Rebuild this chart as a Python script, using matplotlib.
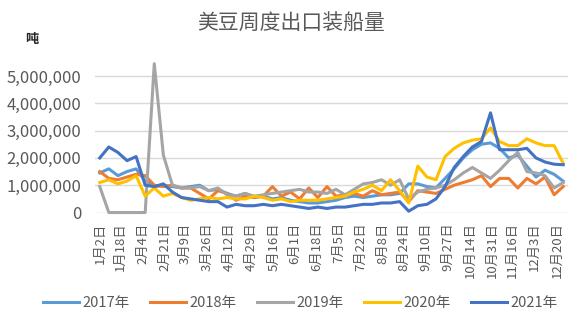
import matplotlib
matplotlib.use("Agg")
import matplotlib.pyplot as plt
import numpy as np
from matplotlib.ticker import FuncFormatter

plt.rcParams['font.family'] = ['Noto Sans CJK SC', 'DejaVu Sans']

# 周度数据(百万吨),每年52周,第一周为1月2日
years = ['2017年', '2018年', '2019年', '2020年', '2021年']
colors = ['#5B9BD5', '#ED7D31', '#A5A5A5', '#FFC000', '#4472C4']

y2017 = [1.45, 1.6, 1.35, 1.5, 1.6, 1.15, 0.95, 1.0, 0.95, 0.9, 0.95, 1.0, 0.8,
         0.85, 0.7, 0.6, 0.7, 0.55, 0.6, 0.5, 0.55, 0.45, 0.4, 0.35, 0.35, 0.4,
         0.45, 0.55, 0.6, 0.55, 0.6, 0.65, 0.65, 0.7, 1.05, 1.05, 0.95, 0.9,
         1.25, 1.6, 2.0, 2.3, 2.5, 2.55, 2.35, 2.0, 2.1, 1.7, 1.3, 1.55, 1.4, 1.15]
y2018 = [1.5, 1.25, 1.2, 1.3, 1.4, 1.35, 1.0, 0.95, 1.0, 0.9, 0.9, 0.7, 0.5,
         0.8, 0.7, 0.45, 0.6, 0.55, 0.6, 0.95, 0.6, 0.75, 0.5, 0.9, 0.55, 0.95,
         0.6, 0.65, 0.7, 0.6, 0.8, 0.65, 0.7, 0.75, 0.4, 0.8, 0.75, 0.7,
         0.85, 1.0, 1.1, 1.2, 1.35, 0.95, 1.25, 1.25, 0.9, 1.25, 1.05, 1.3, 0.65, 0.95]
y2019 = [0.95, 0, 0, 0, 0, 0, 5.45, 2.1, 1.0, 0.9, 0.9, 0.95, 0.8,
         0.9, 0.65, 0.6, 0.7, 0.6, 0.65, 0.7, 0.75, 0.8, 0.85, 0.75, 0.75, 0.7,
         0.85, 0.65, 0.85, 1.05, 1.1, 1.2, 1.0, 1.2, 0.5, 0.75, 0.85, 0.9,
         1.0, 1.2, 1.45, 1.65, 1.45, 1.25, 1.55, 1.9, 2.2, 1.5, 1.45, 1.35, 0.9, 1.1]
y2020 = [1.1, 1.2, 1.05, 1.15, 1.35, 0.6, 0.9, 0.6, 0.7, 0.55, 0.45, 0.5, 0.55,
         0.5, 0.55, 0.5, 0.5, 0.6, 0.55, 0.45, 0.5, 0.4, 0.45, 0.45, 0.45, 0.5,
         0.55, 0.6, 0.75, 0.85, 1.0, 0.8, 1.2, 0.8, 0.35, 1.7, 1.3, 1.2,
         2.05, 2.35, 2.55, 2.65, 2.7, 3.1, 2.6, 2.45, 2.45, 2.7, 2.55, 2.45, 2.45, 1.8]
y2021 = [2.0, 2.4, 2.2, 1.9, 2.05, 1.0, 0.95, 1.05, 0.75, 0.55, 0.5, 0.45, 0.4,
         0.4, 0.2, 0.3, 0.25, 0.25, 0.3, 0.25, 0.3, 0.25, 0.2, 0.15, 0.2, 0.15,
         0.2, 0.2, 0.25, 0.3, 0.3, 0.35, 0.35, 0.4, 0.05, 0.25, 0.3, 0.5,
         0.95, 1.65, 2.05, 2.4, 2.6, 3.65, 2.3, 2.3, 2.3, 2.35, 2.0, 1.85, 1.77, 1.75]
series = [y2017, y2018, y2019, y2020, y2021]

tick_labels = ['1月2日', '1月18日', '2月4日', '2月21日', '3月9日', '3月26日', '4月12日',
               '4月29日', '5月16日', '6月1日', '6月18日', '7月5日', '7月22日', '8月8日',
               '8月24日', '9月10日', '9月27日', '10月14日', '10月31日', '11月16日',
               '12月3日', '12月20日']

month_start = np.cumsum([0, 31, 28, 31, 30, 31, 30, 31, 31, 30, 31, 30])


def day_of_year(label):
    m, d = label.replace('日', '').split('月')
    return month_start[int(m) - 1] + int(d)


tick_pos = [day_of_year(t) for t in tick_labels]
days = 2 + 7 * np.arange(52)

fig = plt.figure(figsize=(5.77, 3.28), dpi=100)
ax = fig.add_axes([0.165, 0.352, 0.819, 0.458])

for vals, c, name in zip(series, colors, years):
    ax.plot(days, np.array(vals) * 1e6, color=c, lw=2.2, label=name,
            solid_joinstyle='round', clip_on=False)

ax.set_xlim(-1.5, 362.5)
ax.set_ylim(0, 5.5e6)
ax.set_yticks(np.arange(0, 5.01e6, 1e6))
ax.yaxis.set_major_formatter(FuncFormatter(lambda v, p: '{:,.0f}'.format(v)))
ax.set_xticks(tick_pos)
ax.set_xticklabels(tick_labels, rotation=90)
ax.tick_params(axis='x', length=0, pad=7, labelsize=9.5, colors='#595959')
ax.tick_params(axis='y', length=0, pad=10, labelsize=12, colors='#595959')
ax.grid(axis='y', color='#D9D9D9', lw=1)
ax.set_axisbelow(True)
for s in ax.spines.values():
    s.set_visible(False)

fig.text(0.505, 0.93, '美豆周度出口装船量', ha='center', va='center',
         fontsize=15, color='#595959')
fig.text(0.055, 0.88, '吨', ha='center', va='center', fontsize=9.5,
         fontweight='bold', color='#262626')

fig.legend(loc='center', bbox_to_anchor=(0.52, 0.075), ncol=5, frameon=False,
           fontsize=10.5, handlelength=2.5, handletextpad=0.2,
           columnspacing=1.4, labelcolor='#595959')

fig.savefig('out.png', dpi=100)
